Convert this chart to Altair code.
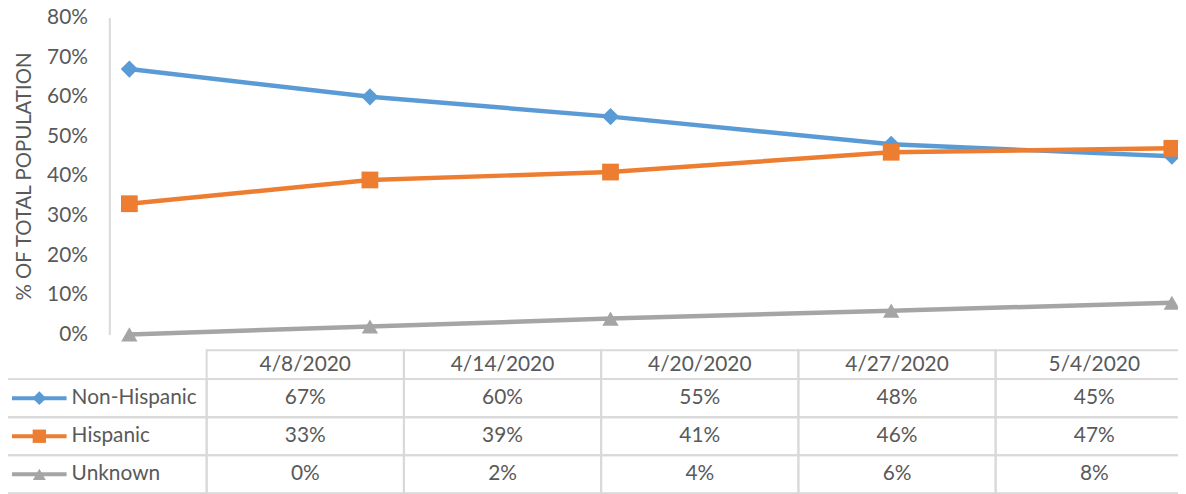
import altair as alt
import pandas as pd

# ---- data -------------------------------------------------------------
dates = ["4/8/2020", "4/14/2020", "4/20/2020", "4/27/2020", "5/4/2020"]
series = ["Non-Hispanic", "Hispanic", "Unknown"]
non_hispanic = [0.67, 0.60, 0.55, 0.48, 0.45]
hispanic = [0.33, 0.39, 0.41, 0.46, 0.47]
unknown = [0.00, 0.02, 0.04, 0.06, 0.08]
y_ticks = [0.0, 0.1, 0.2, 0.3, 0.4, 0.5, 0.6, 0.7, 0.8]
y_title = "% OF TOTAL POPULATION"

# ---- styles -----------------------------------------------------------
colors = ["#5B9BD5", "#ED7D31", "#A5A5A5"]
shapes = ["diamond", "square", "triangle-up"]
marker_sizes = [300, 270, 300]
legend_marker_sizes = [190, 170, 190]
FONT = "Lato"
TXT = "#595959"
GRID = "#D9D9D9"
FS = 21

values = {"Non-Hispanic": non_hispanic, "Hispanic": hispanic, "Unknown": unknown}
# series for the plot (date parsed as time)
df = pd.DataFrame(
    [{"series": s, "date": d, "value": v} for s in series for d, v in zip(dates, values[s])]
)
# the same numbers for the data table (dates kept as labels)
tab_df = pd.DataFrame(
    [{"series": s, "col": d, "pct": v} for s in series for d, v in zip(dates, values[s])]
)
head_df = pd.DataFrame({"col": dates, "row": ["header"] * len(dates)})
leg_df = pd.DataFrame({"series": series, "legcol": ["legend"] * len(series)})

# ---- scales (pixel ranges relative to plot origin) --------------------
X_TIME = alt.Scale(
    type="time",
    domain=[alt.DateTime(year=2020, month=4, date=7, hours=12),
            alt.DateTime(year=2020, month=5, date=4, hours=12)],
    range=[0, 1090],
)
Y_VAL = alt.Scale(domain=[0, 0.8], range=[319, 0], nice=False, zero=False)
X_DATECOL = alt.Scale(type="band", domain=dates, range=[98, 1091], paddingInner=0, paddingOuter=0)
X_LEGCOL = alt.Scale(type="band", domain=["legend"], range=[-104, 98], paddingInner=0, paddingOuter=0)
Y_HEAD = alt.Scale(type="band", domain=["header"], range=[335, 364], paddingInner=0, paddingOuter=0)
Y_BODY = alt.Scale(type="band", domain=series, range=[364, 479], paddingInner=0, paddingOuter=0)
C_SCALE = alt.Scale(domain=series, range=colors)
S_SCALE = alt.Scale(domain=series, range=shapes)

color_enc = alt.Color("series:N", scale=C_SCALE, legend=None)
shape_enc = alt.Shape("series:N", scale=S_SCALE, legend=None)

# ---- line chart -------------------------------------------------------
base = alt.Chart(df)
lines = base.mark_line(strokeWidth=4.5).encode(
    x=alt.X("date:T", scale=X_TIME, axis=None),
    y=alt.Y(
        "value:Q",
        scale=Y_VAL,
        axis=alt.Axis(
            values=y_ticks,
            format=".0%",
            title=y_title,
            grid=False,
            ticks=False,
            tickSize=0,
            domainColor=GRID,
            domainWidth=2,
            labelFont=FONT,
            labelFontSize=FS,
            labelColor=TXT,
            labelPadding=22,
            titleFont=FONT,
            titleFontSize=20.5,
            titleFontWeight="normal",
            titleColor=TXT,
            titlePadding=12,
        ),
    ),
    color=color_enc,
    detail="series:N",
)
points = base.mark_point(filled=True, opacity=1).encode(
    x=alt.X("date:T", scale=X_TIME, axis=None),
    y=alt.Y("value:Q", scale=Y_VAL, axis=None),
    color=color_enc,
    shape=shape_enc,
    size=alt.Size("series:N", scale=alt.Scale(domain=series, range=marker_sizes), legend=None),
)

# ---- data table -------------------------------------------------------
cell_style = dict(fill="white", fillOpacity=0, stroke=GRID, strokeWidth=2)
text_style = dict(font=FONT, fontSize=FS, color=TXT, baseline="middle")

head_cells = alt.Chart(head_df).mark_rect(**cell_style).encode(
    x=alt.X("col:N", scale=X_DATECOL, axis=None),
    y=alt.Y("row:N", scale=Y_HEAD, axis=None),
)
head_text = alt.Chart(head_df).mark_text(align="center", **text_style).encode(
    x=alt.X("col:N", scale=X_DATECOL, axis=None),
    y=alt.Y("row:N", scale=Y_HEAD, axis=None),
    text="col:N",
)
body_cells = alt.Chart(tab_df).mark_rect(**cell_style).encode(
    x=alt.X("col:N", scale=X_DATECOL, axis=None),
    y=alt.Y("series:N", scale=Y_BODY, axis=None),
)
body_text = alt.Chart(tab_df).mark_text(align="center", **text_style).encode(
    x=alt.X("col:N", scale=X_DATECOL, axis=None),
    y=alt.Y("series:N", scale=Y_BODY, axis=None),
    text=alt.Text("pct:Q", format=".0%"),
)
leg_cells = alt.Chart(leg_df).mark_rect(**cell_style).encode(
    x=alt.X("legcol:N", scale=X_LEGCOL, axis=None),
    y=alt.Y("series:N", scale=Y_BODY, axis=None),
)
leg_text = alt.Chart(leg_df).mark_text(align="left", **text_style).encode(
    x=alt.X("legcol:N", scale=X_LEGCOL, axis=None, bandPosition=0.327),
    y=alt.Y("series:N", scale=Y_BODY, axis=None),
    text="series:N",
)
leg_line = alt.Chart(leg_df).mark_tick(
    orient="horizontal", size=55, thickness=4, opacity=1, xOffset=-67.5
).encode(
    x=alt.X("legcol:N", scale=X_LEGCOL, axis=None),
    y=alt.Y("series:N", scale=Y_BODY, axis=None),
    color=color_enc,
)
leg_mark = alt.Chart(leg_df).mark_point(filled=True, opacity=1).encode(
    x=alt.X("legcol:N", scale=X_LEGCOL, axis=None, bandPosition=0.166),
    y=alt.Y("series:N", scale=Y_BODY, axis=None),
    color=color_enc,
    shape=shape_enc,
    size=alt.Size("series:N", scale=alt.Scale(domain=series, range=legend_marker_sizes), legend=None),
)

chart = (
    alt.layer(
        head_cells, body_cells, leg_cells,
        head_text, body_text, leg_text,
        leg_line, leg_mark,
        lines, points,
    )
    .resolve_scale(x="independent", y="independent", color="independent",
                   shape="independent", size="independent")
    .properties(
        width=1076,
        height=478,
        padding={"left": 102, "top": 8, "right": 0, "bottom": 0},
        autosize=alt.AutoSizeParams(type="none"),
        background="white",
    )
    .configure_view(strokeWidth=0)
)

chart.save("out.html", embed_options={"renderer": "svg", "actions": False})
